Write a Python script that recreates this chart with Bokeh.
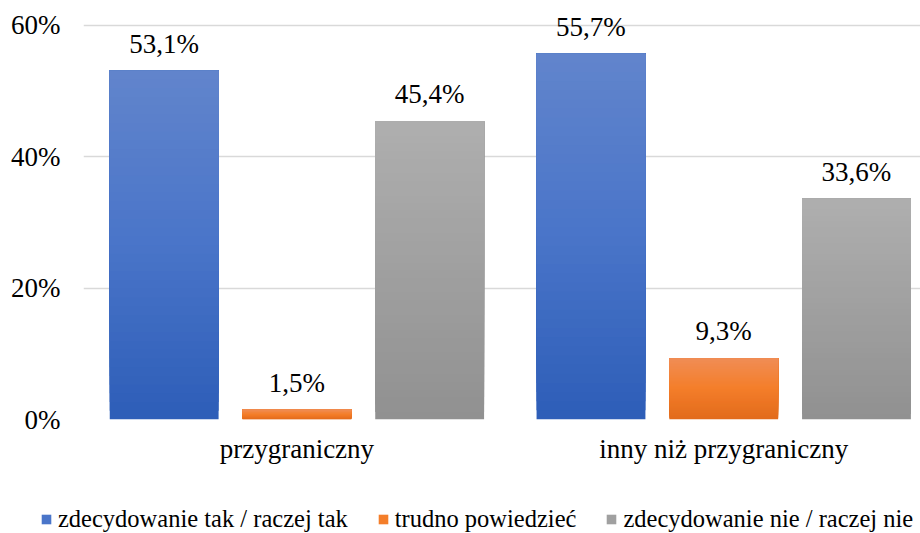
from bokeh.plotting import figure
from bokeh.models import Range1d, FixedTicker, Legend, LegendItem, ColumnDataSource
from bokeh.core.properties import value
from bokeh.embed import file_html
from bokeh.resources import INLINE

categories = ["przygraniczny", "inny niż przygraniczny"]
series_names = ["zdecydowanie tak / raczej tak", "trudno powiedzieć", "zdecydowanie nie / raczej nie"]
tak = [53.1, 55.7]
trudno = [1.5, 9.3]
nie = [45.4, 33.6]
y_ticks = [0, 20, 40, 60]
y_tick_labels = ["0%", "20%", "40%", "60%"]

series_values = [tak, trudno, nie]
# gradient stops: bottom -> middle -> top
stops = [
    [(46, 94, 184), (74, 117, 201), (98, 133, 204)],
    [(226, 107, 27), (244, 126, 42), (240, 141, 86)],
    [(145, 145, 145), (160, 160, 160), (175, 175, 175)],
]
legend_colors = ["#4a75c9", "#f47e2a", "#a0a0a0"]
offsets = [-0.311, 0.0, 0.311]
bar_w = 0.255
FONT = "Liberation Serif"

p = figure(width=920, height=490, output_backend="svg", toolbar_location=None,
           x_range=Range1d(-0.5, 1.461), y_range=Range1d(0, 63.8),
           min_border_left=83, min_border_right=0, min_border_top=0, min_border_bottom=71)
p.outline_line_color = None
p.background_fill_color = "white"
p.border_fill_color = "white"


def interp(st, t):
    if t <= 0.5:
        a, b, u = st[0], st[1], t / 0.5
    else:
        a, b, u = st[1], st[2], (t - 0.5) / 0.5
    c = [round(a[i] + (b[i] - a[i]) * u) for i in range(3)]
    return "#%02x%02x%02x" % tuple(c)


N = 40
for si, vals in enumerate(series_values):
    xs = [i + offsets[si] for i in range(len(categories))]
    for k in range(N):
        f = k / N
        col = interp(stops[si], f)
        p.vbar(x=xs, width=bar_w, bottom=[v * f for v in vals], top=vals,
               fill_color=col, line_color=None)
    labels = [("%.1f" % v).replace(".", ",") + "%" for v in vals]
    src = ColumnDataSource(dict(x=xs, y=vals, t=labels))
    p.text(x="x", y="y", text="t", source=src, text_align="center",
           text_baseline="alphabetic", y_offset=-27, text_font=value(FONT),
           text_font_size="27px", text_color="#000000")

# axes
p.xaxis.ticker = FixedTicker(ticks=list(range(len(categories))))
p.xaxis.major_label_overrides = {i: c for i, c in enumerate(categories)}
p.yaxis.ticker = FixedTicker(ticks=y_ticks)
p.yaxis.major_label_overrides = {t: l for t, l in zip(y_ticks, y_tick_labels)}
for ax in (p.xaxis[0], p.yaxis[0]):
    ax.axis_line_color = None
    ax.major_tick_line_color = None
    ax.minor_tick_line_color = None
    ax.major_tick_out = 0
    ax.major_tick_in = 0
    ax.minor_tick_out = 0
    ax.minor_tick_in = 0
    ax.major_label_text_font = FONT
    ax.major_label_text_font_size = "27px"
    ax.major_label_text_color = "#000000"
p.yaxis.major_label_standoff = 23
p.xaxis.major_label_standoff = 14

p.xgrid.grid_line_color = None
p.ygrid.ticker = FixedTicker(ticks=y_ticks)
p.ygrid.grid_line_color = "#D9D9D9"
p.ygrid.grid_line_width = 1.3

# legend strip below the chart (hidden renderers only feed the legend swatches)
lf = figure(width=920, height=43, output_backend="svg", toolbar_location=None,
            x_axis_location=None, y_axis_location=None,
            x_range=Range1d(-0.5, 1.461), y_range=Range1d(-2, -1),
            min_border_left=0, min_border_right=0, min_border_top=0, min_border_bottom=0)
lf.grid.visible = False
lf.outline_line_color = None
lf.border_fill_color = "white"
lf.background_fill_color = "white"
items = []
for si, (name, c) in enumerate(zip(series_names, legend_colors)):
    xs = [i + offsets[si] for i in range(len(categories))]
    r = lf.vbar(x=xs, bottom=series_values[si], top=series_values[si], width=bar_w,
                fill_color=c, line_color=None)
    r.visible = False
    items.append(LegendItem(label=name, renderers=[r]))
legend = Legend(items=items, orientation="horizontal", location=(40, 0),
                label_text_font=FONT, label_text_font_size="24.5px", label_text_color="#000000",
                label_height=22,
                glyph_width=12, glyph_height=12, label_standoff=6, spacing=29,
                padding=0, margin=0, border_line_color=None, background_fill_alpha=0)
lf.add_layout(legend, "center")

open("out.html", "w").write(file_html([p, lf], INLINE))
